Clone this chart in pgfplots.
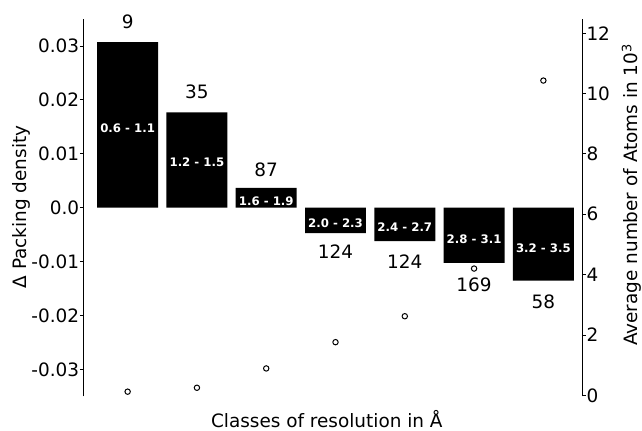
\documentclass[border=0pt]{standalone}
\usepackage{fontspec}
\setmainfont{DejaVu Sans}
\usepackage{pgfplots}
\usepackage{pgfplotstable}
\pgfplotsset{compat=1.18}

% bars: height, centre of the range label, range, count, position of the count
\pgfplotstableread{
x y mid lab n npos
0 0.0307 0.01476 {0.6 - 1.1} 9 0.03453
1 0.0177 0.00838 {1.2 - 1.5} 35 0.02156
2 0.0037 0.0013 {1.6 - 1.9} 87 0.00708
3 -0.0047 -0.00289 {2.0 - 2.3} 124 -0.0082
4 -0.0062 -0.00367 {2.4 - 2.7} 124 -0.00997
5 -0.0102 -0.00584 {2.8 - 3.1} 169 -0.01431
6 -0.0135 -0.00742 {3.2 - 3.5} 58 -0.01748
}\packing

% average number of atoms (10^3)
\pgfplotstableread{
x atoms
0 0.12
1 0.25
2 0.89
3 1.76
4 2.62
5 4.20
6 10.43
}\atoms

\newcommand\bigfont{\fontsize{18.5}{22}\selectfont}
\newcommand\smallbold{\fontsize{11.8}{14}\selectfont\bfseries}

\pgfplotsset{
  common/.style={
    scale only axis,
    width=499bp, height=377.5bp,
    xmin=-0.64, xmax=6.562,
    axis x line=none,
    scaled y ticks=false,
    tick align=outside,
    major tick length=3.5bp,
    every tick/.style={black, line width=0.8bp},
    axis line style={black, line width=0.8bp},
    tick label style={font=\bigfont},
    clip=false,
  },
}

\begin{document}
\begin{tikzpicture}
\begin{axis}[
    common,
    axis y line*=left,
    ymin=-0.035, ymax=0.035,
    ytick={-0.03,-0.02,-0.01,0,0.01,0.02,0.03},
    yticklabels={-0.03,-0.02,-0.01,0.0,0.01,0.02,0.03},
    yticklabel style={inner xsep=0.5bp},
    ylabel={Δ Packing density},
    every axis y label/.style={at={(axis description cs:-0.1138,0.502)},
      rotate=90, anchor=base, font=\bigfont},
]
\addplot[ybar, bar width=0.88, fill=black, draw=none] table[x=x, y=y] {\packing};
\addplot[draw=none, mark=none, nodes near coords, point meta=explicit symbolic,
  every node near coord/.append style={anchor=center, text=white, font=\smallbold}]
  table[x=x, y=mid, meta=lab] {\packing};
\addplot[draw=none, mark=none, nodes near coords, point meta=explicit symbolic,
  every node near coord/.append style={anchor=center, text=black, font=\bigfont}]
  table[x=x, y=npos, meta=n] {\packing};
\node[anchor=base, font=\bigfont] at (axis description cs:0.488,-0.0834)
  {Classes of resolution in Å};
\end{axis}
\begin{axis}[
    common,
    axis y line*=right,
    ymin=-0.04, ymax=12.47,
    ytick={0,2,4,6,8,10,12},
    yticklabels={0,2,4,6,8,10,12},
    yticklabel style={inner xsep=0.5bp},
    ylabel={Average number of Atoms in 10\textsuperscript{3}},
    every axis y label/.style={at={(axis description cs:1.1106,0.534)},
      rotate=90, anchor=base, font=\bigfont},
]
\addplot[only marks, mark=*, mark size=2.7bp,
  mark options={fill=white, draw=black, line width=1bp}]
  table[x=x, y=atoms] {\atoms};
\end{axis}
\pgfresetboundingbox
\path[use as bounding box] (-83.3bp,-34.5bp) rectangle (558.7bp,396.5bp);
\end{tikzpicture}
\end{document}
